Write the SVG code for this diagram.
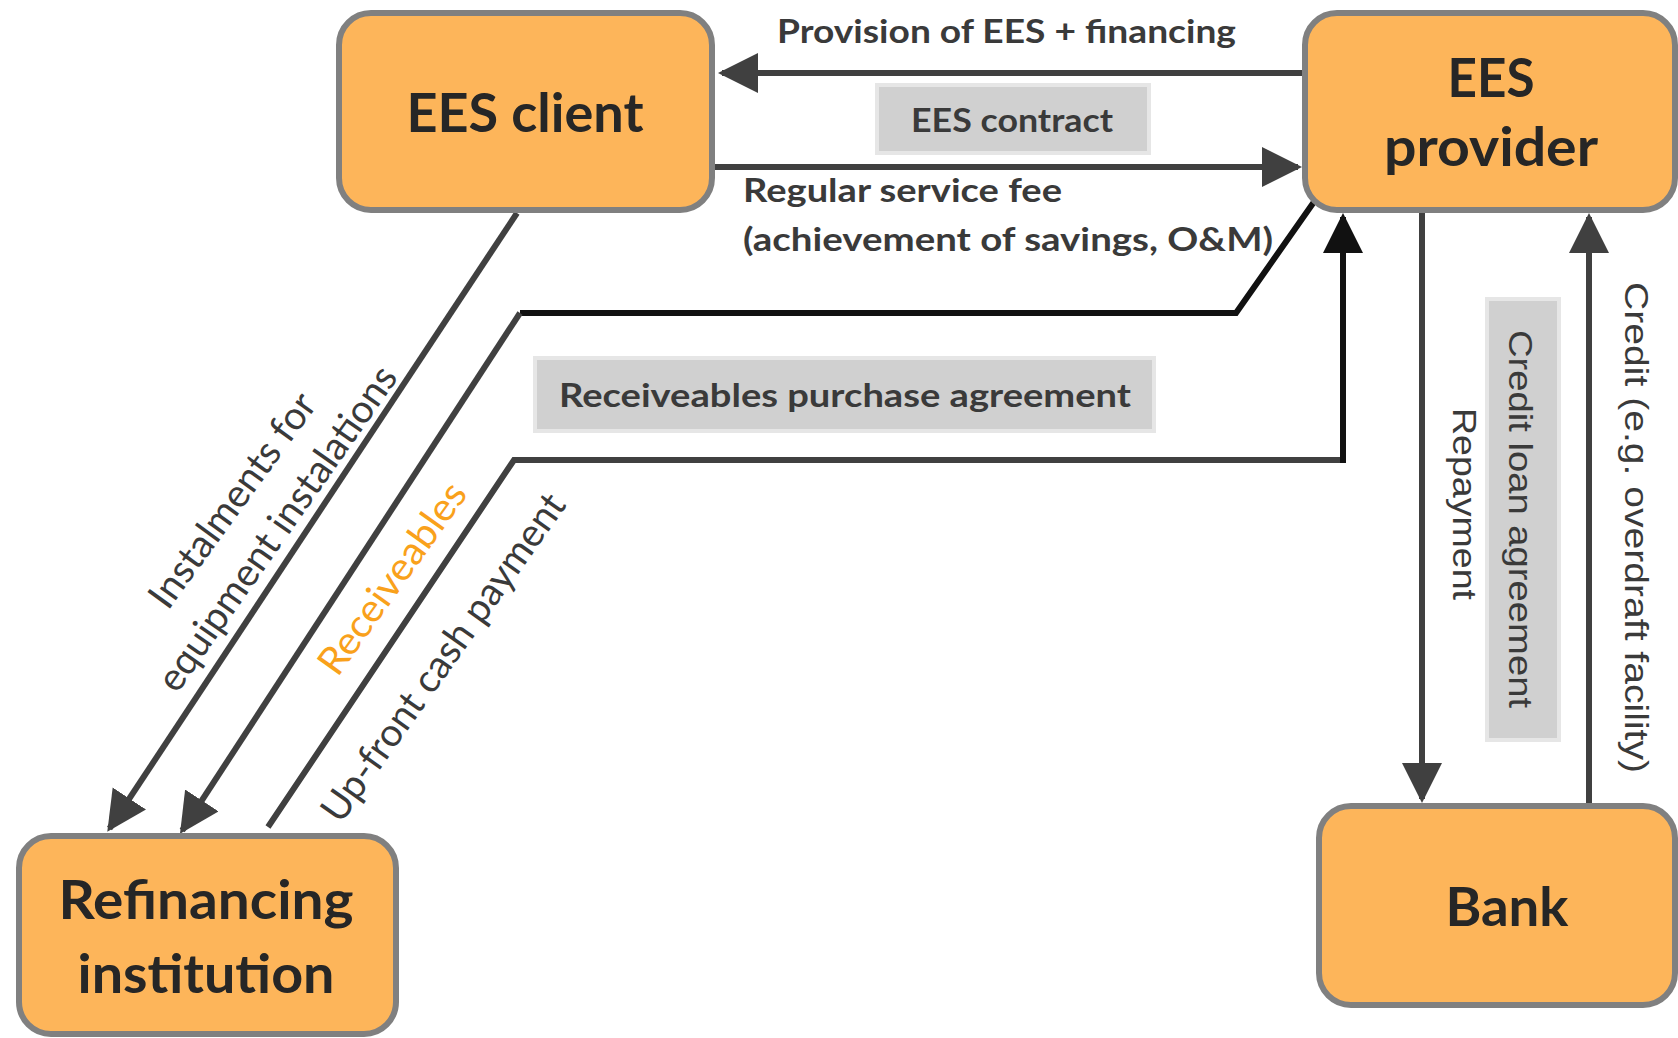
<svg xmlns="http://www.w3.org/2000/svg" width="1678" height="1038" viewBox="0 0 1678 1038">
<style>
.node{fill:#FDB55A;stroke:#808080;stroke-width:6}
.ntext{font-family:Lato,"Liberation Sans",sans-serif;font-weight:bold;font-size:54px;fill:#262626;text-anchor:middle}
.lbl{font-family:Lato,"Liberation Sans",sans-serif;font-weight:bold;font-size:33px;fill:#3a3a3a}
.dlbl{font-family:Lato,"Liberation Sans",sans-serif;font-size:39px;fill:#3a3a3a;text-anchor:middle}
.vlbl{font-family:"Liberation Sans",Arial,sans-serif;font-size:34px;fill:#3a3a3a}
.gbox{fill:#D0D0D0;stroke:#E6E6E6;stroke-width:4}
.ln{fill:none;stroke:#404040;stroke-width:6}
.lnk{fill:none;stroke:#111111;stroke-width:6}
</style>
<defs>
<marker id="ah" markerUnits="userSpaceOnUse" markerWidth="44" markerHeight="44" refX="36" refY="20" orient="auto" viewBox="0 0 44 44">
<path d="M0,0 L40,20 L0,40 z" fill="#404040"/>
</marker>
<marker id="ahk" markerUnits="userSpaceOnUse" markerWidth="44" markerHeight="44" refX="36" refY="20" orient="auto" viewBox="0 0 44 44">
<path d="M0,0 L40,20 L0,40 z" fill="#111111"/>
</marker>
</defs>
<rect width="1678" height="1038" fill="#ffffff"/>

<g id="labels-boxes">
<rect class="gbox" x="877" y="85" width="272" height="68"/>
<rect class="gbox" x="535" y="358" width="619" height="73"/>
<rect class="gbox" x="1487" y="299" width="72" height="441"/>
</g>

<g id="connectors">
<line class="ln" x1="1304" y1="73" x2="722" y2="73" marker-end="url(#ah)"/>
<line class="ln" x1="715" y1="167" x2="1298" y2="167" marker-end="url(#ah)"/>
<line class="ln" x1="517" y1="213" x2="109.5" y2="828.5" marker-end="url(#ah)"/>
<polyline class="lnk" points="1316,199 1236,313 520,313"/>
<line class="ln" x1="520" y1="313" x2="182.2" y2="830.5" marker-end="url(#ah)"/>
<polyline class="ln" points="268,827 514,460 1343,460"/>
<line class="lnk" x1="1343" y1="463" x2="1343" y2="217" marker-end="url(#ahk)"/>
<line class="ln" x1="1422" y1="213" x2="1422" y2="799" marker-end="url(#ah)"/>
<line class="ln" x1="1589" y1="805" x2="1589" y2="217" marker-end="url(#ah)"/>
</g>

<g id="node-ees-client">
<rect class="node" x="339" y="13" width="373" height="197" rx="32"/>
<text class="ntext" x="525" y="132" textLength="237" lengthAdjust="spacingAndGlyphs">EES client</text>
</g>
<g id="node-ees-provider">
<rect class="node" x="1305" y="13" width="370" height="197" rx="32"/>
<text class="ntext" x="1491" y="97" textLength="87" lengthAdjust="spacingAndGlyphs">EES</text>
<text class="ntext" x="1491" y="166" textLength="214" lengthAdjust="spacingAndGlyphs">provider</text>
</g>
<g id="node-bank">
<rect class="node" x="1319" y="806" width="356" height="199" rx="32"/>
<text class="ntext" x="1507" y="926" textLength="123" lengthAdjust="spacingAndGlyphs">Bank</text>
</g>
<g id="node-refinancing">
<rect class="node" x="19" y="836" width="377" height="198" rx="32"/>
<text class="ntext" x="206" y="919" textLength="295" lengthAdjust="spacingAndGlyphs">Refinancing</text>
<text class="ntext" x="206" y="993" textLength="257" lengthAdjust="spacingAndGlyphs">institution</text>
</g>

<g id="connector-labels">
<text class="lbl" x="777" y="43" textLength="459" lengthAdjust="spacingAndGlyphs">Provision of EES + financing</text>
<text class="lbl" x="911" y="132" textLength="202" lengthAdjust="spacingAndGlyphs">EES contract</text>
<text class="lbl" x="743" y="202" textLength="319" lengthAdjust="spacingAndGlyphs">Regular service fee</text>
<text class="lbl" x="743" y="251" textLength="530" lengthAdjust="spacingAndGlyphs">(achievement of savings, O&amp;M)</text>
<text class="lbl" x="559" y="407" textLength="572" lengthAdjust="spacingAndGlyphs">Receiveables purchase agreement</text>
<text class="dlbl" transform="translate(243,508) rotate(-54)" textLength="255" lengthAdjust="spacingAndGlyphs">Instalments for</text>
<text class="dlbl" transform="translate(288,536) rotate(-55)" textLength="387" lengthAdjust="spacingAndGlyphs">equipment instalations</text>
<text class="dlbl" transform="translate(403,586) rotate(-54.5)" textLength="226" lengthAdjust="spacingAndGlyphs" style="fill:#F9A11B">Receiveables</text>
<text class="dlbl" transform="translate(454,665) rotate(-54.7)" textLength="392" lengthAdjust="spacingAndGlyphs">Up-front cash payment</text>
<text class="vlbl" transform="translate(1453,408) rotate(90)" textLength="192" lengthAdjust="spacingAndGlyphs">Repayment</text>
<text class="vlbl" transform="translate(1509,330) rotate(90)" textLength="378" lengthAdjust="spacingAndGlyphs">Credit loan agreement</text>
<text class="vlbl" transform="translate(1625,282) rotate(90)" textLength="491" lengthAdjust="spacingAndGlyphs">Credit (e.g. overdraft facility)</text>
</g>
</svg>
